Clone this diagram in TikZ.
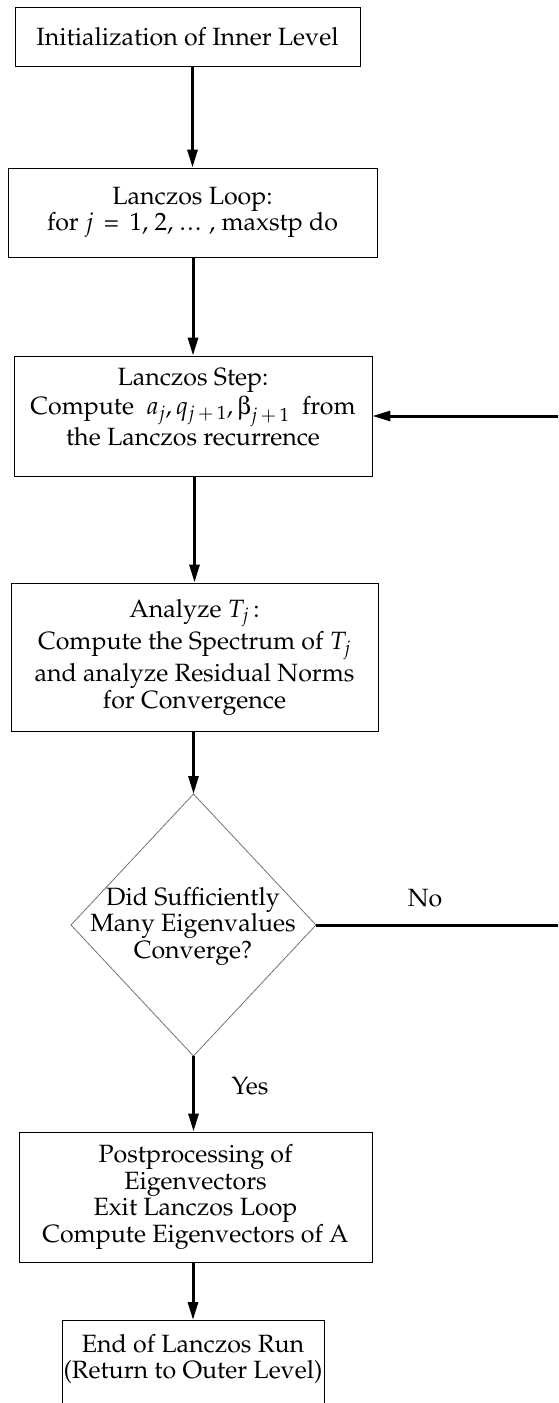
\documentclass[tikz,border=0pt]{standalone}
\usepackage[T1]{fontenc}
\usepackage{mathpazo}
\usepackage{pifont}
\usetikzlibrary{arrows.meta,shapes.geometric}

% upright beta taken from the Symbol font
\newcommand{\symbeta}{\mbox{\Pisymbol{psy}{98}}}
% tight ellipsis
\newcommand{\tightdots}{.\kern1.5pt.\kern1.5pt.}
\newcommand{\bodyfont}{\fontsize{25}{26.5}\selectfont}

\tikzset{
  box/.style={draw, line width=0.9pt, rectangle, align=center, inner sep=0pt, font=\bodyfont},
  lbl/.style={font=\bodyfont, inner sep=0pt, align=center},
  flow/.style={line width=3pt, -{Triangle[length=18pt,width=10pt]}},
  decision/.style={draw=black!55, line width=0.8pt, diamond, inner sep=0pt, outer sep=0pt}
}

\begin{document}
\begin{tikzpicture}[x=1pt,y=-1pt]
\useasboundingbox (0,0) rectangle (558,1403);
\clip (0,0) rectangle (558,1403);

% process boxes
\node[box, minimum width=345, minimum height=59] (init) at (187.5,36.5)
  {Initialization of Inner Level};
\node[box, minimum width=369, minimum height=89] (loop) at (192.5,212.5)
  {Lanczos Loop:\\ for $j$ \,=\, 1, 2, \tightdots{} , maxstp do};
\node[box, minimum width=358, minimum height=120] (step) at (193,416)
  {Lanczos Step:\\[3pt] Compute \ $a_j, q_{j\,+\,1}, \symbeta_{j\,+\,1}$ \ from\\ the Lanczos recurrence\\[-8pt]\mbox{}};
\node[box, minimum width=367, minimum height=148] (anal) at (194.5,657)
  {Analyze $T_j$\,:\\[3pt] Compute the Spectrum of $T_j$\\[3pt] and analyze Residual Norms\\ for Convergence};

% decision
\node[decision, minimum width=245, minimum height=262] (dec) at (193.5,925) {};
\node[lbl] (dectext) at (193,926) {Did Sufficiently\\ Many Eigenvalues\\ Converge?};

\node[box, minimum width=353, minimum height=130] (post) at (195.5,1197)
  {Postprocessing of\\ Eigenvectors\\ Exit Lanczos Loop\\ Compute Eigenvectors of A};
\node[box, minimum width=262, minimum height=130, anchor=north] (endbox) at (193,1320) {};
\node[lbl] (endtext) at (193,1359) {End of Lanczos Run\\ (Return to Outer Level)};

% branch labels
\node[lbl] (no) at (425,898) {No};
\node[lbl] (yes) at (250,1086) {Yes};

% main flow
\draw[flow] (init.south -| loop.north) -- (loop.north);
\draw[flow] (loop.south -| step.north) -- (step.north);
\draw[flow] (step.south -| anal.north) -- (anal.north);
\draw[flow] (anal.south -| dec.north) -- (dec.north);
\draw[flow] (dec.south) -- (dec.south |- post.north);
\draw[flow] (post.south -| endbox.north) -- (endbox.north);

% loop back to the Lanczos step
\coordinate (back) at (580,0);
\draw[flow] (dec.east) -- (dec.east -| back) -- (back |- step.east) -- (step.east);
\end{tikzpicture}
\end{document}
